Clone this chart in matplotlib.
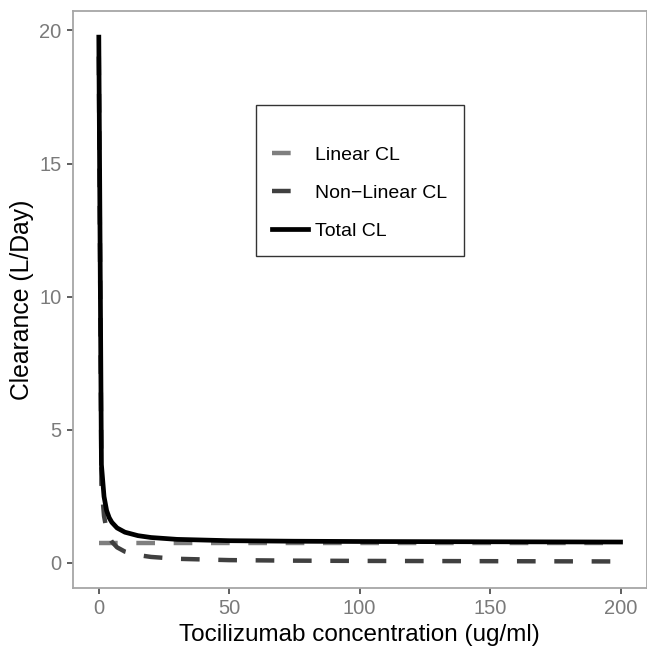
import numpy as np
import matplotlib
matplotlib.use("Agg")
import matplotlib.pyplot as plt

plt.rcParams['font.family'] = ['Liberation Sans', 'DejaVu Sans']

# values
conc = [0, 1, 2, 3, 4, 5, 7, 10, 15, 20, 30, 50, 75, 100, 150, 200]
linear_cl = [0.73, 0.73, 0.73, 0.73, 0.73, 0.73, 0.73, 0.73, 0.73, 0.73,
             0.73, 0.73, 0.73, 0.73, 0.73, 0.73]
nonlinear_cl = [19.02, 2.95, 1.75, 1.22, 0.95, 0.78, 0.57, 0.41, 0.28, 0.21,
                0.14, 0.09, 0.07, 0.06, 0.05, 0.04]
total_cl = [19.75, 3.68, 2.48, 1.95, 1.68, 1.51, 1.30, 1.14, 1.01, 0.94,
            0.87, 0.82, 0.80, 0.79, 0.78, 0.77]

x_ticks = [0, 50, 100, 150, 200]
y_ticks = [0, 5, 10, 15, 20]

fig = plt.figure(figsize=(6.47, 6.47), dpi=100)
ax = fig.add_axes([0.1124, 0.0907, 0.887, 0.893])

ax.plot(conc, linear_cl, color='#7f7f7f', lw=3.2, dashes=(4.2, 4.2),
        label='Linear CL', dash_capstyle='butt')
ax.plot(conc, nonlinear_cl, color='#404040', lw=3.2, dashes=(4.2, 4.2),
        label='Non\u2212Linear CL', dash_capstyle='butt')
ax.plot(conc, total_cl, color='black', lw=3.4, label='Total CL',
        solid_joinstyle='round')

ax.set_xlim(-10, 210)
ax.set_ylim(-0.97, 20.75)
ax.set_xticks(x_ticks)
ax.set_yticks(y_ticks)
ax.tick_params(labelsize=14.5, labelcolor='#7a7a7a', color='#444444',
               length=4.5, width=1.2)

for sp in ax.spines.values():
    sp.set_color('#a6a6a6')
    sp.set_linewidth(1.3)

ax.set_xlabel('Tocilizumab concentration (ug/ml)', fontsize=17.5, labelpad=4)
ax.set_ylabel('Clearance (L/Day)', fontsize=17.8, labelpad=4)

leg = ax.legend(loc='upper left', bbox_to_anchor=(0.3193, 0.8365),
                fontsize=14, title=' ', title_fontsize=3,
                frameon=True, fancybox=False, handlelength=1.85,
                handletextpad=0.35, labelspacing=1.05, borderpad=0.85,
                borderaxespad=0)
leg.get_frame().set_edgecolor('black')
leg.get_frame().set_linewidth(1.0)

fig.savefig('out.png', dpi=100)
